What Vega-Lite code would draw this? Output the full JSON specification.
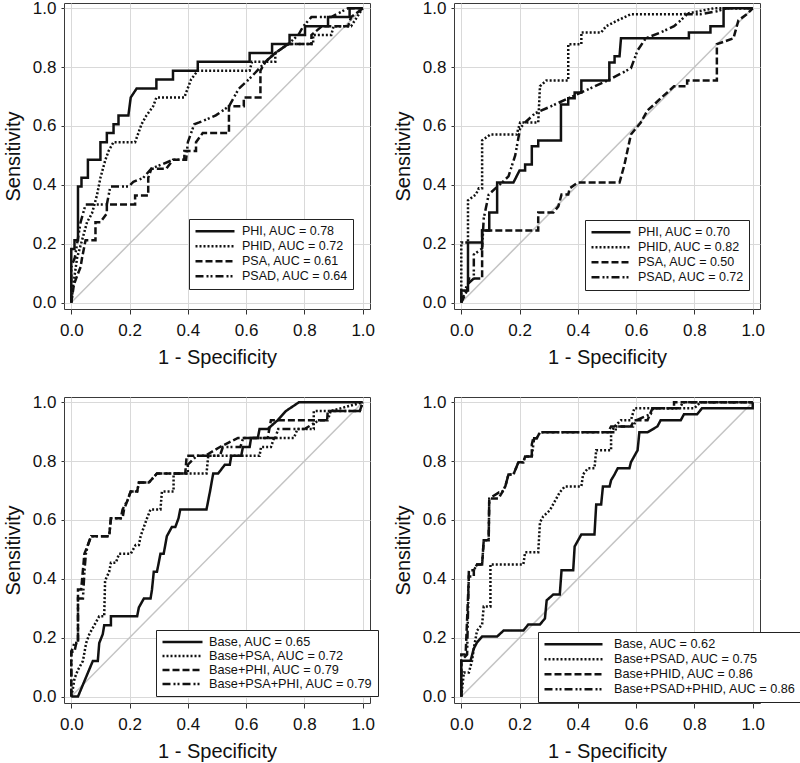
{
"$schema": "https://vega.github.io/schema/vega-lite/v6.json",
"padding": {"left": 2, "top": -2, "right": 0, "bottom": 0},
"config": {
 "font": "Liberation Sans",
 "view": {"stroke": "#3a3a3a", "strokeWidth": 1},
 "axis": {"grid": true, "gridColor": "#d9d9d9", "gridWidth": 1, "domain": false, "tickColor": "#333", "tickWidth": 1, "labelColor": "#111", "titleColor": "#111", "labelFontSize": 17, "titleFontSize": 20, "titleFontWeight": "normal", "labelFlush": false, "labelOverlap": false},
 "axisX": {"tickSize": 5, "labelPadding": 8, "titlePadding": 9},
 "axisY": {"tickSize": 3, "labelPadding": 5, "titlePadding": 9},
 "legend": {"symbolType": "stroke", "symbolStrokeWidth": 2.5, "symbolStrokeColor": "#111", "labelColor": "#111", "labelLimit": 400, "rowPadding": 0, "padding": 5, "strokeColor": "#222", "fillColor": "white", "title": null}
},
"datasets": {
 "diag": [{"x": 0, "y": 0}, {"x": 1, "y": 1}],
 "a": [
  {"s":"PHI","x":0,"y":0},{"s":"PHI","x":0,"y":0.182},{"s":"PHI","x":0.011,"y":0.182},{"s":"PHI","x":0.011,"y":0.212},{"s":"PHI","x":0.023,"y":0.212},{"s":"PHI","x":0.023,"y":0.394},{"s":"PHI","x":0.035,"y":0.394},{"s":"PHI","x":0.035,"y":0.424},{"s":"PHI","x":0.057,"y":0.424},{"s":"PHI","x":0.057,"y":0.485},{"s":"PHI","x":0.1,"y":0.485},{"s":"PHI","x":0.1,"y":0.545},{"s":"PHI","x":0.122,"y":0.545},{"s":"PHI","x":0.122,"y":0.576},{"s":"PHI","x":0.145,"y":0.576},{"s":"PHI","x":0.145,"y":0.606},{"s":"PHI","x":0.162,"y":0.606},{"s":"PHI","x":0.162,"y":0.636},{"s":"PHI","x":0.196,"y":0.636},{"s":"PHI","x":0.204,"y":0.697},{"s":"PHI","x":0.224,"y":0.727},{"s":"PHI","x":0.292,"y":0.727},{"s":"PHI","x":0.292,"y":0.758},{"s":"PHI","x":0.349,"y":0.758},{"s":"PHI","x":0.349,"y":0.788},{"s":"PHI","x":0.434,"y":0.788},{"s":"PHI","x":0.434,"y":0.818},{"s":"PHI","x":0.612,"y":0.818},{"s":"PHI","x":0.612,"y":0.848},{"s":"PHI","x":0.689,"y":0.848},{"s":"PHI","x":0.689,"y":0.879},{"s":"PHI","x":0.749,"y":0.879},{"s":"PHI","x":0.749,"y":0.909},{"s":"PHI","x":0.802,"y":0.909},{"s":"PHI","x":0.802,"y":0.939},{"s":"PHI","x":0.881,"y":0.939},{"s":"PHI","x":0.881,"y":0.97},{"s":"PHI","x":0.955,"y":0.97},{"s":"PHI","x":0.955,"y":1},{"s":"PHI","x":1,"y":1},
  {"s":"PHID","x":0,"y":0},{"s":"PHID","x":0.007,"y":0.061},{"s":"PHID","x":0.02,"y":0.152},{"s":"PHID","x":0.037,"y":0.212},{"s":"PHID","x":0.054,"y":0.273},{"s":"PHID","x":0.071,"y":0.303},{"s":"PHID","x":0.088,"y":0.364},{"s":"PHID","x":0.1,"y":0.424},{"s":"PHID","x":0.117,"y":0.485},{"s":"PHID","x":0.128,"y":0.515},{"s":"PHID","x":0.145,"y":0.545},{"s":"PHID","x":0.219,"y":0.545},{"s":"PHID","x":0.241,"y":0.606},{"s":"PHID","x":0.258,"y":0.636},{"s":"PHID","x":0.281,"y":0.667},{"s":"PHID","x":0.292,"y":0.697},{"s":"PHID","x":0.388,"y":0.697},{"s":"PHID","x":0.411,"y":0.758},{"s":"PHID","x":0.434,"y":0.788},{"s":"PHID","x":0.612,"y":0.788},{"s":"PHID","x":0.62,"y":0.818},{"s":"PHID","x":0.7,"y":0.818},{"s":"PHID","x":0.7,"y":0.848},{"s":"PHID","x":0.745,"y":0.879},{"s":"PHID","x":0.83,"y":0.879},{"s":"PHID","x":0.83,"y":0.909},{"s":"PHID","x":0.892,"y":0.909},{"s":"PHID","x":0.9,"y":0.939},{"s":"PHID","x":0.96,"y":0.939},{"s":"PHID","x":1,"y":1},
  {"s":"PSA","x":0,"y":0},{"s":"PSA","x":0.009,"y":0.061},{"s":"PSA","x":0.02,"y":0.091},{"s":"PSA","x":0.032,"y":0.121},{"s":"PSA","x":0.037,"y":0.152},{"s":"PSA","x":0.049,"y":0.212},{"s":"PSA","x":0.083,"y":0.212},{"s":"PSA","x":0.083,"y":0.273},{"s":"PSA","x":0.1,"y":0.273},{"s":"PSA","x":0.122,"y":0.303},{"s":"PSA","x":0.122,"y":0.333},{"s":"PSA","x":0.219,"y":0.333},{"s":"PSA","x":0.219,"y":0.364},{"s":"PSA","x":0.264,"y":0.364},{"s":"PSA","x":0.264,"y":0.424},{"s":"PSA","x":0.275,"y":0.455},{"s":"PSA","x":0.326,"y":0.455},{"s":"PSA","x":0.349,"y":0.485},{"s":"PSA","x":0.388,"y":0.485},{"s":"PSA","x":0.388,"y":0.515},{"s":"PSA","x":0.428,"y":0.515},{"s":"PSA","x":0.428,"y":0.545},{"s":"PSA","x":0.451,"y":0.576},{"s":"PSA","x":0.541,"y":0.576},{"s":"PSA","x":0.541,"y":0.667},{"s":"PSA","x":0.592,"y":0.667},{"s":"PSA","x":0.592,"y":0.697},{"s":"PSA","x":0.649,"y":0.697},{"s":"PSA","x":0.649,"y":0.788},{"s":"PSA","x":0.666,"y":0.818},{"s":"PSA","x":0.7,"y":0.848},{"s":"PSA","x":0.745,"y":0.879},{"s":"PSA","x":0.824,"y":0.879},{"s":"PSA","x":0.824,"y":0.909},{"s":"PSA","x":0.86,"y":0.939},{"s":"PSA","x":0.95,"y":0.939},{"s":"PSA","x":0.96,"y":0.97},{"s":"PSA","x":1,"y":1},
  {"s":"PSAD","x":0,"y":0},{"s":"PSAD","x":0,"y":0.121},{"s":"PSAD","x":0.012,"y":0.152},{"s":"PSAD","x":0.02,"y":0.2},{"s":"PSAD","x":0.032,"y":0.273},{"s":"PSAD","x":0.049,"y":0.333},{"s":"PSAD","x":0.122,"y":0.333},{"s":"PSAD","x":0.134,"y":0.394},{"s":"PSAD","x":0.196,"y":0.394},{"s":"PSAD","x":0.213,"y":0.41},{"s":"PSAD","x":0.247,"y":0.424},{"s":"PSAD","x":0.275,"y":0.455},{"s":"PSAD","x":0.349,"y":0.485},{"s":"PSAD","x":0.394,"y":0.485},{"s":"PSAD","x":0.4,"y":0.545},{"s":"PSAD","x":0.422,"y":0.606},{"s":"PSAD","x":0.439,"y":0.612},{"s":"PSAD","x":0.496,"y":0.636},{"s":"PSAD","x":0.541,"y":0.667},{"s":"PSAD","x":0.575,"y":0.727},{"s":"PSAD","x":0.609,"y":0.758},{"s":"PSAD","x":0.638,"y":0.788},{"s":"PSAD","x":0.666,"y":0.818},{"s":"PSAD","x":0.7,"y":0.848},{"s":"PSAD","x":0.745,"y":0.879},{"s":"PSAD","x":0.779,"y":0.909},{"s":"PSAD","x":0.796,"y":0.939},{"s":"PSAD","x":0.824,"y":0.97},{"s":"PSAD","x":0.892,"y":0.97},{"s":"PSAD","x":0.949,"y":1},{"s":"PSAD","x":1,"y":1}
 ],
 "c": [
  {"s":"PHI","x":0,"y":0},{"s":"PHI","x":0,"y":0.041},{"s":"PHI","x":0.023,"y":0.041},{"s":"PHI","x":0.023,"y":0.204},{"s":"PHI","x":0.0715,"y":0.204},{"s":"PHI","x":0.0715,"y":0.245},{"s":"PHI","x":0.096,"y":0.245},{"s":"PHI","x":0.096,"y":0.306},{"s":"PHI","x":0.123,"y":0.306},{"s":"PHI","x":0.123,"y":0.408},{"s":"PHI","x":0.179,"y":0.408},{"s":"PHI","x":0.2,"y":0.449},{"s":"PHI","x":0.219,"y":0.449},{"s":"PHI","x":0.219,"y":0.469},{"s":"PHI","x":0.242,"y":0.469},{"s":"PHI","x":0.242,"y":0.531},{"s":"PHI","x":0.264,"y":0.531},{"s":"PHI","x":0.264,"y":0.551},{"s":"PHI","x":0.342,"y":0.551},{"s":"PHI","x":0.342,"y":0.673},{"s":"PHI","x":0.367,"y":0.673},{"s":"PHI","x":0.367,"y":0.694},{"s":"PHI","x":0.389,"y":0.694},{"s":"PHI","x":0.389,"y":0.714},{"s":"PHI","x":0.412,"y":0.714},{"s":"PHI","x":0.412,"y":0.755},{"s":"PHI","x":0.508,"y":0.755},{"s":"PHI","x":0.508,"y":0.816},{"s":"PHI","x":0.526,"y":0.816},{"s":"PHI","x":0.526,"y":0.837},{"s":"PHI","x":0.543,"y":0.837},{"s":"PHI","x":0.548,"y":0.898},{"s":"PHI","x":0.781,"y":0.898},{"s":"PHI","x":0.781,"y":0.918},{"s":"PHI","x":0.855,"y":0.918},{"s":"PHI","x":0.855,"y":0.939},{"s":"PHI","x":0.9,"y":0.939},{"s":"PHI","x":0.9,"y":1},{"s":"PHI","x":1,"y":1},
  {"s":"PHID","x":0,"y":0},{"s":"PHID","x":0,"y":0.204},{"s":"PHID","x":0.023,"y":0.204},{"s":"PHID","x":0.023,"y":0.347},{"s":"PHID","x":0.05,"y":0.367},{"s":"PHID","x":0.06,"y":0.388},{"s":"PHID","x":0.0715,"y":0.388},{"s":"PHID","x":0.0715,"y":0.551},{"s":"PHID","x":0.1,"y":0.571},{"s":"PHID","x":0.19,"y":0.571},{"s":"PHID","x":0.202,"y":0.612},{"s":"PHID","x":0.264,"y":0.612},{"s":"PHID","x":0.27,"y":0.735},{"s":"PHID","x":0.292,"y":0.755},{"s":"PHID","x":0.367,"y":0.755},{"s":"PHID","x":0.367,"y":0.878},{"s":"PHID","x":0.412,"y":0.878},{"s":"PHID","x":0.412,"y":0.918},{"s":"PHID","x":0.48,"y":0.918},{"s":"PHID","x":0.497,"y":0.939},{"s":"PHID","x":0.537,"y":0.959},{"s":"PHID","x":0.582,"y":0.98},{"s":"PHID","x":0.764,"y":0.98},{"s":"PHID","x":0.866,"y":1},{"s":"PHID","x":1,"y":1},
  {"s":"PSA","x":0,"y":0},{"s":"PSA","x":0.02,"y":0.041},{"s":"PSA","x":0.026,"y":0.082},{"s":"PSA","x":0.0715,"y":0.082},{"s":"PSA","x":0.0715,"y":0.245},{"s":"PSA","x":0.264,"y":0.245},{"s":"PSA","x":0.264,"y":0.306},{"s":"PSA","x":0.316,"y":0.306},{"s":"PSA","x":0.333,"y":0.327},{"s":"PSA","x":0.344,"y":0.367},{"s":"PSA","x":0.367,"y":0.367},{"s":"PSA","x":0.372,"y":0.388},{"s":"PSA","x":0.4,"y":0.408},{"s":"PSA","x":0.543,"y":0.408},{"s":"PSA","x":0.56,"y":0.469},{"s":"PSA","x":0.582,"y":0.571},{"s":"PSA","x":0.616,"y":0.612},{"s":"PSA","x":0.639,"y":0.653},{"s":"PSA","x":0.662,"y":0.673},{"s":"PSA","x":0.684,"y":0.694},{"s":"PSA","x":0.707,"y":0.714},{"s":"PSA","x":0.73,"y":0.735},{"s":"PSA","x":0.775,"y":0.735},{"s":"PSA","x":0.775,"y":0.755},{"s":"PSA","x":0.877,"y":0.755},{"s":"PSA","x":0.877,"y":0.878},{"s":"PSA","x":0.934,"y":0.898},{"s":"PSA","x":0.951,"y":0.959},{"s":"PSA","x":0.98,"y":0.98},{"s":"PSA","x":1,"y":1},
  {"s":"PSAD","x":0,"y":0},{"s":"PSAD","x":0.02,"y":0.061},{"s":"PSAD","x":0.043,"y":0.082},{"s":"PSAD","x":0.043,"y":0.163},{"s":"PSAD","x":0.0715,"y":0.184},{"s":"PSAD","x":0.077,"y":0.286},{"s":"PSAD","x":0.094,"y":0.367},{"s":"PSAD","x":0.117,"y":0.388},{"s":"PSAD","x":0.14,"y":0.408},{"s":"PSAD","x":0.162,"y":0.429},{"s":"PSAD","x":0.185,"y":0.5},{"s":"PSAD","x":0.202,"y":0.592},{"s":"PSAD","x":0.219,"y":0.612},{"s":"PSAD","x":0.253,"y":0.643},{"s":"PSAD","x":0.299,"y":0.663},{"s":"PSAD","x":0.367,"y":0.694},{"s":"PSAD","x":0.412,"y":0.714},{"s":"PSAD","x":0.503,"y":0.755},{"s":"PSAD","x":0.582,"y":0.796},{"s":"PSAD","x":0.605,"y":0.857},{"s":"PSAD","x":0.633,"y":0.898},{"s":"PSAD","x":0.684,"y":0.918},{"s":"PSAD","x":0.73,"y":0.939},{"s":"PSAD","x":0.753,"y":0.959},{"s":"PSAD","x":0.775,"y":0.98},{"s":"PSAD","x":0.82,"y":0.98},{"s":"PSAD","x":0.877,"y":0.99},{"s":"PSAD","x":0.911,"y":1},{"s":"PSAD","x":1,"y":1}
 ],
 "b": [
  {"s":"Base","x":0,"y":0},{"s":"Base","x":0.023,"y":0},{"s":"Base","x":0.074,"y":0.121},{"s":"Base","x":0.091,"y":0.121},{"s":"Base","x":0.096,"y":0.182},{"s":"Base","x":0.108,"y":0.212},{"s":"Base","x":0.113,"y":0.242},{"s":"Base","x":0.136,"y":0.242},{"s":"Base","x":0.136,"y":0.273},{"s":"Base","x":0.226,"y":0.273},{"s":"Base","x":0.232,"y":0.303},{"s":"Base","x":0.249,"y":0.333},{"s":"Base","x":0.272,"y":0.333},{"s":"Base","x":0.277,"y":0.364},{"s":"Base","x":0.283,"y":0.424},{"s":"Base","x":0.294,"y":0.424},{"s":"Base","x":0.306,"y":0.485},{"s":"Base","x":0.317,"y":0.485},{"s":"Base","x":0.328,"y":0.545},{"s":"Base","x":0.345,"y":0.576},{"s":"Base","x":0.357,"y":0.576},{"s":"Base","x":0.368,"y":0.606},{"s":"Base","x":0.374,"y":0.636},{"s":"Base","x":0.464,"y":0.636},{"s":"Base","x":0.476,"y":0.697},{"s":"Base","x":0.487,"y":0.758},{"s":"Base","x":0.504,"y":0.758},{"s":"Base","x":0.527,"y":0.788},{"s":"Base","x":0.544,"y":0.788},{"s":"Base","x":0.549,"y":0.818},{"s":"Base","x":0.583,"y":0.818},{"s":"Base","x":0.589,"y":0.848},{"s":"Base","x":0.612,"y":0.848},{"s":"Base","x":0.617,"y":0.879},{"s":"Base","x":0.64,"y":0.879},{"s":"Base","x":0.646,"y":0.909},{"s":"Base","x":0.674,"y":0.909},{"s":"Base","x":0.708,"y":0.939},{"s":"Base","x":0.736,"y":0.97},{"s":"Base","x":0.781,"y":1},{"s":"Base","x":1,"y":1},
  {"s":"Base+PSA","x":0,"y":0},{"s":"Base+PSA","x":0.006,"y":0.03},{"s":"Base+PSA","x":0.011,"y":0.061},{"s":"Base+PSA","x":0.023,"y":0.091},{"s":"Base+PSA","x":0.04,"y":0.121},{"s":"Base+PSA","x":0.051,"y":0.182},{"s":"Base+PSA","x":0.062,"y":0.212},{"s":"Base+PSA","x":0.079,"y":0.242},{"s":"Base+PSA","x":0.096,"y":0.273},{"s":"Base+PSA","x":0.113,"y":0.273},{"s":"Base+PSA","x":0.116,"y":0.394},{"s":"Base+PSA","x":0.13,"y":0.424},{"s":"Base+PSA","x":0.136,"y":0.455},{"s":"Base+PSA","x":0.153,"y":0.455},{"s":"Base+PSA","x":0.164,"y":0.485},{"s":"Base+PSA","x":0.204,"y":0.485},{"s":"Base+PSA","x":0.221,"y":0.515},{"s":"Base+PSA","x":0.232,"y":0.515},{"s":"Base+PSA","x":0.238,"y":0.545},{"s":"Base+PSA","x":0.249,"y":0.576},{"s":"Base+PSA","x":0.26,"y":0.606},{"s":"Base+PSA","x":0.272,"y":0.636},{"s":"Base+PSA","x":0.306,"y":0.636},{"s":"Base+PSA","x":0.311,"y":0.697},{"s":"Base+PSA","x":0.351,"y":0.697},{"s":"Base+PSA","x":0.351,"y":0.758},{"s":"Base+PSA","x":0.464,"y":0.758},{"s":"Base+PSA","x":0.47,"y":0.818},{"s":"Base+PSA","x":0.646,"y":0.818},{"s":"Base+PSA","x":0.651,"y":0.848},{"s":"Base+PSA","x":0.685,"y":0.848},{"s":"Base+PSA","x":0.696,"y":0.879},{"s":"Base+PSA","x":0.764,"y":0.879},{"s":"Base+PSA","x":0.776,"y":0.909},{"s":"Base+PSA","x":0.832,"y":0.909},{"s":"Base+PSA","x":0.832,"y":0.97},{"s":"Base+PSA","x":0.889,"y":0.97},{"s":"Base+PSA","x":1,"y":1},
  {"s":"Base+PHI","x":0,"y":0},{"s":"Base+PHI","x":0,"y":0.152},{"s":"Base+PHI","x":0.011,"y":0.152},{"s":"Base+PHI","x":0.017,"y":0.182},{"s":"Base+PHI","x":0.023,"y":0.182},{"s":"Base+PHI","x":0.023,"y":0.364},{"s":"Base+PHI","x":0.034,"y":0.364},{"s":"Base+PHI","x":0.045,"y":0.485},{"s":"Base+PHI","x":0.057,"y":0.515},{"s":"Base+PHI","x":0.068,"y":0.545},{"s":"Base+PHI","x":0.13,"y":0.545},{"s":"Base+PHI","x":0.136,"y":0.606},{"s":"Base+PHI","x":0.176,"y":0.606},{"s":"Base+PHI","x":0.181,"y":0.636},{"s":"Base+PHI","x":0.193,"y":0.667},{"s":"Base+PHI","x":0.204,"y":0.697},{"s":"Base+PHI","x":0.226,"y":0.697},{"s":"Base+PHI","x":0.232,"y":0.727},{"s":"Base+PHI","x":0.266,"y":0.727},{"s":"Base+PHI","x":0.294,"y":0.758},{"s":"Base+PHI","x":0.391,"y":0.758},{"s":"Base+PHI","x":0.396,"y":0.818},{"s":"Base+PHI","x":0.459,"y":0.818},{"s":"Base+PHI","x":0.51,"y":0.848},{"s":"Base+PHI","x":0.572,"y":0.879},{"s":"Base+PHI","x":0.674,"y":0.879},{"s":"Base+PHI","x":0.685,"y":0.939},{"s":"Base+PHI","x":0.878,"y":0.939},{"s":"Base+PHI","x":0.88,"y":0.97},{"s":"Base+PHI","x":0.99,"y":0.97},{"s":"Base+PHI","x":1,"y":1},
  {"s":"Base+PSA+PHI","x":0,"y":0},{"s":"Base+PSA+PHI","x":0,"y":0.152},{"s":"Base+PSA+PHI","x":0.011,"y":0.182},{"s":"Base+PSA+PHI","x":0.023,"y":0.182},{"s":"Base+PSA+PHI","x":0.023,"y":0.333},{"s":"Base+PSA+PHI","x":0.04,"y":0.333},{"s":"Base+PSA+PHI","x":0.045,"y":0.424},{"s":"Base+PSA+PHI","x":0.05,"y":0.485},{"s":"Base+PSA+PHI","x":0.057,"y":0.515},{"s":"Base+PSA+PHI","x":0.068,"y":0.545},{"s":"Base+PSA+PHI","x":0.13,"y":0.545},{"s":"Base+PSA+PHI","x":0.136,"y":0.606},{"s":"Base+PSA+PHI","x":0.17,"y":0.606},{"s":"Base+PSA+PHI","x":0.176,"y":0.636},{"s":"Base+PSA+PHI","x":0.193,"y":0.667},{"s":"Base+PSA+PHI","x":0.204,"y":0.697},{"s":"Base+PSA+PHI","x":0.226,"y":0.697},{"s":"Base+PSA+PHI","x":0.232,"y":0.727},{"s":"Base+PSA+PHI","x":0.266,"y":0.727},{"s":"Base+PSA+PHI","x":0.294,"y":0.758},{"s":"Base+PSA+PHI","x":0.4,"y":0.758},{"s":"Base+PSA+PHI","x":0.4,"y":0.788},{"s":"Base+PSA+PHI","x":0.43,"y":0.818},{"s":"Base+PSA+PHI","x":0.51,"y":0.818},{"s":"Base+PSA+PHI","x":0.52,"y":0.848},{"s":"Base+PSA+PHI","x":0.58,"y":0.848},{"s":"Base+PSA+PHI","x":0.59,"y":0.879},{"s":"Base+PSA+PHI","x":0.7,"y":0.879},{"s":"Base+PSA+PHI","x":0.71,"y":0.909},{"s":"Base+PSA+PHI","x":0.8,"y":0.909},{"s":"Base+PSA+PHI","x":0.85,"y":0.939},{"s":"Base+PSA+PHI","x":0.88,"y":0.939},{"s":"Base+PSA+PHI","x":0.89,"y":0.97},{"s":"Base+PSA+PHI","x":0.99,"y":0.97},{"s":"Base+PSA+PHI","x":1,"y":1}
 ],
 "d": [
  {"s":"Base","x":0,"y":0},{"s":"Base","x":0,"y":0.122},{"s":"Base","x":0.032,"y":0.122},{"s":"Base","x":0.043,"y":0.163},{"s":"Base","x":0.054,"y":0.184},{"s":"Base","x":0.0715,"y":0.204},{"s":"Base","x":0.123,"y":0.204},{"s":"Base","x":0.145,"y":0.224},{"s":"Base","x":0.213,"y":0.224},{"s":"Base","x":0.23,"y":0.245},{"s":"Base","x":0.27,"y":0.245},{"s":"Base","x":0.287,"y":0.265},{"s":"Base","x":0.293,"y":0.327},{"s":"Base","x":0.316,"y":0.347},{"s":"Base","x":0.338,"y":0.347},{"s":"Base","x":0.344,"y":0.429},{"s":"Base","x":0.384,"y":0.429},{"s":"Base","x":0.389,"y":0.51},{"s":"Base","x":0.412,"y":0.551},{"s":"Base","x":0.457,"y":0.551},{"s":"Base","x":0.463,"y":0.653},{"s":"Base","x":0.48,"y":0.653},{"s":"Base","x":0.486,"y":0.714},{"s":"Base","x":0.509,"y":0.714},{"s":"Base","x":0.514,"y":0.735},{"s":"Base","x":0.526,"y":0.755},{"s":"Base","x":0.537,"y":0.776},{"s":"Base","x":0.577,"y":0.776},{"s":"Base","x":0.582,"y":0.796},{"s":"Base","x":0.605,"y":0.837},{"s":"Base","x":0.611,"y":0.898},{"s":"Base","x":0.639,"y":0.898},{"s":"Base","x":0.673,"y":0.918},{"s":"Base","x":0.684,"y":0.939},{"s":"Base","x":0.753,"y":0.939},{"s":"Base","x":0.764,"y":0.959},{"s":"Base","x":0.809,"y":0.959},{"s":"Base","x":0.826,"y":0.98},{"s":"Base","x":1,"y":0.98},{"s":"Base","x":1,"y":1},
  {"s":"Base+PSAD","x":0,"y":0},{"s":"Base+PSAD","x":0.009,"y":0.082},{"s":"Base+PSAD","x":0.026,"y":0.082},{"s":"Base+PSAD","x":0.037,"y":0.122},{"s":"Base+PSAD","x":0.043,"y":0.163},{"s":"Base+PSAD","x":0.054,"y":0.224},{"s":"Base+PSAD","x":0.0715,"y":0.245},{"s":"Base+PSAD","x":0.077,"y":0.306},{"s":"Base+PSAD","x":0.1,"y":0.306},{"s":"Base+PSAD","x":0.1,"y":0.449},{"s":"Base+PSAD","x":0.213,"y":0.449},{"s":"Base+PSAD","x":0.219,"y":0.49},{"s":"Base+PSAD","x":0.264,"y":0.49},{"s":"Base+PSAD","x":0.27,"y":0.592},{"s":"Base+PSAD","x":0.281,"y":0.612},{"s":"Base+PSAD","x":0.304,"y":0.633},{"s":"Base+PSAD","x":0.338,"y":0.694},{"s":"Base+PSAD","x":0.355,"y":0.714},{"s":"Base+PSAD","x":0.412,"y":0.714},{"s":"Base+PSAD","x":0.418,"y":0.755},{"s":"Base+PSAD","x":0.435,"y":0.776},{"s":"Base+PSAD","x":0.457,"y":0.776},{"s":"Base+PSAD","x":0.463,"y":0.837},{"s":"Base+PSAD","x":0.514,"y":0.837},{"s":"Base+PSAD","x":0.514,"y":0.898},{"s":"Base+PSAD","x":0.526,"y":0.918},{"s":"Base+PSAD","x":0.548,"y":0.939},{"s":"Base+PSAD","x":0.582,"y":0.939},{"s":"Base+PSAD","x":0.594,"y":0.98},{"s":"Base+PSAD","x":0.8,"y":0.98},{"s":"Base+PSAD","x":0.82,"y":1},{"s":"Base+PSAD","x":1,"y":1},
  {"s":"Base+PHID","x":0,"y":0},{"s":"Base+PHID","x":0,"y":0.143},{"s":"Base+PHID","x":0.015,"y":0.143},{"s":"Base+PHID","x":0.026,"y":0.408},{"s":"Base+PHID","x":0.043,"y":0.408},{"s":"Base+PHID","x":0.043,"y":0.429},{"s":"Base+PHID","x":0.054,"y":0.449},{"s":"Base+PHID","x":0.0715,"y":0.449},{"s":"Base+PHID","x":0.077,"y":0.531},{"s":"Base+PHID","x":0.094,"y":0.531},{"s":"Base+PHID","x":0.096,"y":0.673},{"s":"Base+PHID","x":0.128,"y":0.673},{"s":"Base+PHID","x":0.14,"y":0.694},{"s":"Base+PHID","x":0.151,"y":0.714},{"s":"Base+PHID","x":0.162,"y":0.755},{"s":"Base+PHID","x":0.179,"y":0.755},{"s":"Base+PHID","x":0.196,"y":0.796},{"s":"Base+PHID","x":0.213,"y":0.796},{"s":"Base+PHID","x":0.219,"y":0.816},{"s":"Base+PHID","x":0.242,"y":0.816},{"s":"Base+PHID","x":0.242,"y":0.857},{"s":"Base+PHID","x":0.247,"y":0.878},{"s":"Base+PHID","x":0.259,"y":0.878},{"s":"Base+PHID","x":0.27,"y":0.898},{"s":"Base+PHID","x":0.503,"y":0.898},{"s":"Base+PHID","x":0.514,"y":0.918},{"s":"Base+PHID","x":0.582,"y":0.918},{"s":"Base+PHID","x":0.594,"y":0.939},{"s":"Base+PHID","x":0.639,"y":0.939},{"s":"Base+PHID","x":0.656,"y":0.98},{"s":"Base+PHID","x":0.73,"y":0.98},{"s":"Base+PHID","x":0.73,"y":1},{"s":"Base+PHID","x":1,"y":1},
  {"s":"Base+PSAD+PHID","x":0,"y":0},{"s":"Base+PSAD+PHID","x":0,"y":0.122},{"s":"Base+PSAD+PHID","x":0.02,"y":0.143},{"s":"Base+PSAD+PHID","x":0.026,"y":0.429},{"s":"Base+PSAD+PHID","x":0.043,"y":0.429},{"s":"Base+PSAD+PHID","x":0.054,"y":0.449},{"s":"Base+PSAD+PHID","x":0.0715,"y":0.449},{"s":"Base+PSAD+PHID","x":0.077,"y":0.531},{"s":"Base+PSAD+PHID","x":0.094,"y":0.531},{"s":"Base+PSAD+PHID","x":0.096,"y":0.673},{"s":"Base+PSAD+PHID","x":0.13,"y":0.694},{"s":"Base+PSAD+PHID","x":0.14,"y":0.694},{"s":"Base+PSAD+PHID","x":0.151,"y":0.714},{"s":"Base+PSAD+PHID","x":0.162,"y":0.755},{"s":"Base+PSAD+PHID","x":0.179,"y":0.755},{"s":"Base+PSAD+PHID","x":0.196,"y":0.796},{"s":"Base+PSAD+PHID","x":0.213,"y":0.796},{"s":"Base+PSAD+PHID","x":0.219,"y":0.816},{"s":"Base+PSAD+PHID","x":0.242,"y":0.816},{"s":"Base+PSAD+PHID","x":0.25,"y":0.878},{"s":"Base+PSAD+PHID","x":0.259,"y":0.878},{"s":"Base+PSAD+PHID","x":0.27,"y":0.898},{"s":"Base+PSAD+PHID","x":0.53,"y":0.898},{"s":"Base+PSAD+PHID","x":0.53,"y":0.918},{"s":"Base+PSAD+PHID","x":0.59,"y":0.918},{"s":"Base+PSAD+PHID","x":0.6,"y":0.939},{"s":"Base+PSAD+PHID","x":0.65,"y":0.96},{"s":"Base+PSAD+PHID","x":0.66,"y":0.98},{"s":"Base+PSAD+PHID","x":0.75,"y":0.98},{"s":"Base+PSAD+PHID","x":0.76,"y":1},{"s":"Base+PSAD+PHID","x":1,"y":1}
 ]
},
"columns": 2,
"bounds": "flush",
"spacing": {"row": 88, "column": 84},
"resolve": {"scale": {"strokeDash": "independent", "x": "independent", "y": "independent"}, "legend": {"strokeDash": "independent"}},
"concat": [
 {
  "width": 306, "height": 306,
  "layer": [
   {"data": {"name": "diag"}, "mark": {"type": "line", "stroke": "#c4c4c4", "strokeWidth": 1.5},
    "encoding": {"x": {"field": "x", "type": "quantitative", "scale": {"domain": [-0.025, 1.025], "nice": false, "zero": false}, "axis": {"values": [0, 0.2, 0.4, 0.6, 0.8, 1], "format": ".1f", "title": "1 - Specificity"}},
                 "y": {"field": "y", "type": "quantitative", "scale": {"domain": [-0.022, 1.018], "nice": false, "zero": false}, "axis": {"values": [0, 0.2, 0.4, 0.6, 0.8, 1], "format": ".1f", "title": "Sensitivity"}}}},
   {"data": {"name": "a"}, "mark": {"type": "line", "stroke": "#111", "strokeWidth": 2.5},
    "encoding": {"x": {"field": "x", "type": "quantitative"}, "y": {"field": "y", "type": "quantitative"}, "order": {"value": null},
      "strokeDash": {"field": "s", "type": "nominal", "scale": {"domain": ["PHI", "PHID", "PSA", "PSAD"], "range": [[1, 0], [2, 2], [7, 3], [8, 3, 2, 2, 2, 3]]},
        "legend": {"orient": "none", "legendX": 125, "legendY": 216, "symbolSize": 1521, "labelOffset": 6, "clipHeight": 14.5, "labelFontSize": 12.5,
          "labelExpr": "datum.label == 'PHI' ? 'PHI, AUC = 0.78' : datum.label == 'PHID' ? 'PHID, AUC = 0.72' : datum.label == 'PSA' ? 'PSA, AUC = 0.61' : 'PSAD, AUC = 0.64'"}}}},
   {"mark": {"type": "text", "fontSize": 21, "color": "#111"}, "encoding": {"x": {"datum": 0.07, "type": "quantitative"}, "y": {"datum": 0.95, "type": "quantitative"}, "text": {"value": "A"}}}
  ]
 },
 {
  "width": 306, "height": 306,
  "layer": [
   {"data": {"name": "diag"}, "mark": {"type": "line", "stroke": "#c4c4c4", "strokeWidth": 1.5},
    "encoding": {"x": {"field": "x", "type": "quantitative", "scale": {"domain": [-0.025, 1.025], "nice": false, "zero": false}, "axis": {"values": [0, 0.2, 0.4, 0.6, 0.8, 1], "format": ".1f", "title": "1 - Specificity"}},
                 "y": {"field": "y", "type": "quantitative", "scale": {"domain": [-0.022, 1.018], "nice": false, "zero": false}, "axis": {"values": [0, 0.2, 0.4, 0.6, 0.8, 1], "format": ".1f", "title": "Sensitivity"}}}},
   {"data": {"name": "c"}, "mark": {"type": "line", "stroke": "#111", "strokeWidth": 2.5},
    "encoding": {"x": {"field": "x", "type": "quantitative"}, "y": {"field": "y", "type": "quantitative"}, "order": {"value": null},
      "strokeDash": {"field": "s", "type": "nominal", "scale": {"domain": ["PHI", "PHID", "PSA", "PSAD"], "range": [[1, 0], [2, 2], [7, 3], [8, 3, 2, 2, 2, 3]]},
        "legend": {"orient": "none", "legendX": 131, "legendY": 217, "symbolSize": 1521, "labelOffset": 6, "clipHeight": 14.5, "labelFontSize": 12.5,
          "labelExpr": "datum.label == 'PHI' ? 'PHI, AUC = 0.70' : datum.label == 'PHID' ? 'PHID, AUC = 0.82' : datum.label == 'PSA' ? 'PSA, AUC = 0.50' : 'PSAD, AUC = 0.72'"}}}},
   {"mark": {"type": "text", "fontSize": 21, "color": "#111"}, "encoding": {"x": {"datum": 0.08, "type": "quantitative"}, "y": {"datum": 0.95, "type": "quantitative"}, "text": {"value": "C"}}}
  ]
 },
 {
  "width": 306, "height": 306,
  "layer": [
   {"data": {"name": "diag"}, "mark": {"type": "line", "stroke": "#c4c4c4", "strokeWidth": 1.5},
    "encoding": {"x": {"field": "x", "type": "quantitative", "scale": {"domain": [-0.025, 1.025], "nice": false, "zero": false}, "axis": {"values": [0, 0.2, 0.4, 0.6, 0.8, 1], "format": ".1f", "title": "1 - Specificity"}},
                 "y": {"field": "y", "type": "quantitative", "scale": {"domain": [-0.022, 1.018], "nice": false, "zero": false}, "axis": {"values": [0, 0.2, 0.4, 0.6, 0.8, 1], "format": ".1f", "title": "Sensitivity"}}}},
   {"data": {"name": "b"}, "mark": {"type": "line", "stroke": "#111", "strokeWidth": 2.5},
    "encoding": {"x": {"field": "x", "type": "quantitative"}, "y": {"field": "y", "type": "quantitative"}, "order": {"value": null},
      "strokeDash": {"field": "s", "type": "nominal", "scale": {"domain": ["Base", "Base+PSA", "Base+PHI", "Base+PSA+PHI"], "range": [[1, 0], [2, 2], [7, 3], [8, 3, 2, 2, 2, 3]]},
        "legend": {"orient": "none", "legendX": 92, "legendY": 233, "symbolSize": 1600, "labelOffset": 5, "clipHeight": 14, "labelFontSize": 12.7,
          "labelExpr": "datum.label == 'Base' ? 'Base, AUC = 0.65' : datum.label == 'Base+PSA' ? 'Base+PSA, AUC = 0.72' : datum.label == 'Base+PHI' ? 'Base+PHI, AUC = 0.79' : 'Base+PSA+PHI, AUC = 0.79'"}}}},
   {"mark": {"type": "text", "fontSize": 21, "color": "#111"}, "encoding": {"x": {"datum": 0.066, "type": "quantitative"}, "y": {"datum": 0.95, "type": "quantitative"}, "text": {"value": "B"}}}
  ]
 },
 {
  "width": 306, "height": 306,
  "layer": [
   {"data": {"name": "diag"}, "mark": {"type": "line", "stroke": "#c4c4c4", "strokeWidth": 1.5},
    "encoding": {"x": {"field": "x", "type": "quantitative", "scale": {"domain": [-0.025, 1.025], "nice": false, "zero": false}, "axis": {"values": [0, 0.2, 0.4, 0.6, 0.8, 1], "format": ".1f", "title": "1 - Specificity"}},
                 "y": {"field": "y", "type": "quantitative", "scale": {"domain": [-0.022, 1.018], "nice": false, "zero": false}, "axis": {"values": [0, 0.2, 0.4, 0.6, 0.8, 1], "format": ".1f", "title": "Sensitivity"}}}},
   {"data": {"name": "d"}, "mark": {"type": "line", "stroke": "#111", "strokeWidth": 2.5},
    "encoding": {"x": {"field": "x", "type": "quantitative"}, "y": {"field": "y", "type": "quantitative"}, "order": {"value": null},
      "strokeDash": {"field": "s", "type": "nominal", "scale": {"domain": ["Base", "Base+PSAD", "Base+PHID", "Base+PSAD+PHID"], "range": [[1, 0], [2, 2], [7, 3], [8, 3, 2, 2, 2, 3]]},
        "legend": {"orient": "none", "legendX": 84, "legendY": 235, "symbolSize": 3364, "labelOffset": 10, "clipHeight": 14.3, "labelFontSize": 12.7,
          "labelExpr": "datum.label == 'Base' ? 'Base, AUC = 0.62' : datum.label == 'Base+PSAD' ? 'Base+PSAD, AUC = 0.75' : datum.label == 'Base+PHID' ? 'Base+PHID, AUC = 0.86' : 'Base+PSAD+PHID, AUC = 0.86'"}}}},
   {"mark": {"type": "text", "fontSize": 21, "color": "#111"}, "encoding": {"x": {"datum": 0.072, "type": "quantitative"}, "y": {"datum": 0.95, "type": "quantitative"}, "text": {"value": "D"}}}
  ]
 }
]
}
